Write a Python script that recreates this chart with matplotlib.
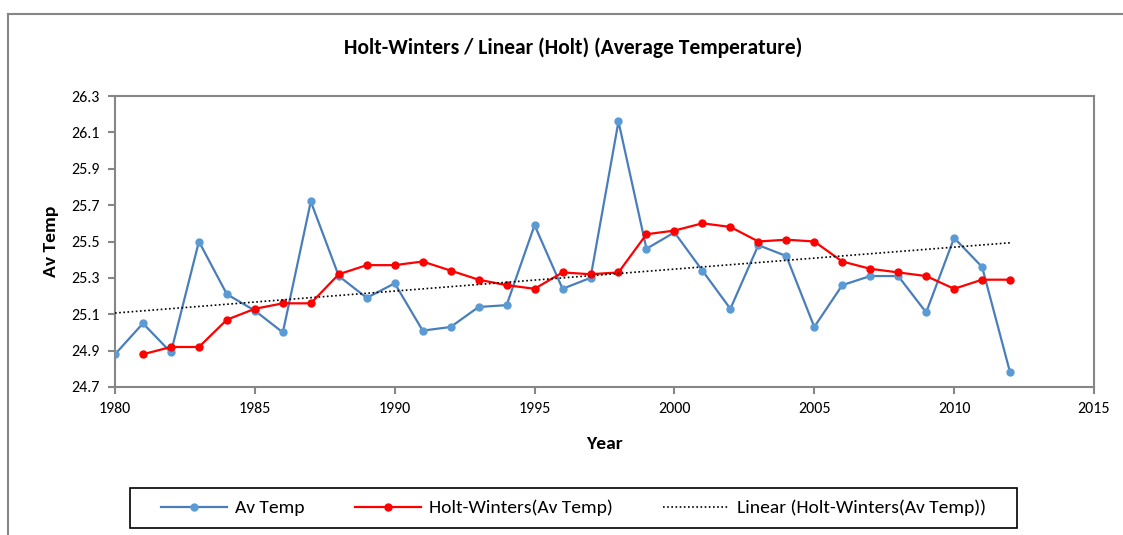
import matplotlib
matplotlib.use("Agg")
import matplotlib.pyplot as plt
import numpy as np
from matplotlib import font_manager
from matplotlib.lines import Line2D
from matplotlib.patches import Rectangle

# pick a narrow-ish font close to Calibri
available = {f.name for f in font_manager.fontManager.ttflist}
family = next((f for f in ['Carlito', 'Liberation Sans Narrow', 'Open Sans', 'DejaVu Sans'] if f in available), 'DejaVu Sans')
plt.rcParams['font.family'] = [family, 'DejaVu Sans']

years = list(range(1980, 2013))
av_temp = [24.88, 25.05, 24.89, 25.50, 25.21, 25.12, 25.00, 25.72, 25.31, 25.19,
           25.27, 25.01, 25.03, 25.14, 25.15, 25.59, 25.24, 25.30, 26.16, 25.46,
           25.55, 25.34, 25.13, 25.48, 25.42, 25.03, 25.26, 25.31, 25.31, 25.11,
           25.52, 25.36, 24.78]
hw_years = list(range(1981, 2013))
holt_winters = [24.88, 24.92, 24.92, 25.07, 25.13, 25.16, 25.16, 25.32, 25.37, 25.37,
                25.39, 25.34, 25.29, 25.26, 25.24, 25.33, 25.32, 25.33, 25.54, 25.56,
                25.60, 25.58, 25.50, 25.51, 25.50, 25.39, 25.35, 25.33, 25.31, 25.24,
                25.29, 25.29]

BLUE_LINE = '#4a7ebb'
BLUE_MARK = '#5b9bd5'
RED = '#ff0000'
GRID = '#868686'

fig = plt.figure(figsize=(11.23, 5.35), dpi=100)
ax = fig.add_axes([115 / 1123, 1 - 387 / 535, (1094 - 115) / 1123, (387 - 96) / 535])

ax.plot(years, av_temp, color=BLUE_LINE, lw=1.6, marker='o', ms=5,
        mfc=BLUE_MARK, mec=BLUE_MARK, label='Av Temp', zorder=3)
ax.plot(hw_years, holt_winters, color=RED, lw=1.6, marker='o', ms=5,
        mfc=RED, mec=RED, label='Holt-Winters(Av Temp)', zorder=4)

# linear trendline of the Holt-Winters series
coef = np.polyfit(hw_years, holt_winters, 1)
trend_x = np.array([1980, 2012])
ax.plot(trend_x, np.polyval(coef, trend_x), color='black', lw=1.2, ls=(0, (1, 1.5)),
        label='Linear (Holt-Winters(Av Temp))', zorder=5)

ax.set_xlim(1980, 2015)
ax.set_ylim(24.7, 26.3)
ax.set_xticks(range(1980, 2016, 5))
ax.set_yticks(np.round(np.arange(24.7, 26.31, 0.2), 1))
ax.yaxis.set_major_formatter(matplotlib.ticker.FormatStrFormatter('%.1f'))
for s in ax.spines.values():
    s.set_color(GRID)
    s.set_linewidth(1.5)
ax.tick_params(axis='both', direction='out', length=5, width=1.5, color=GRID,
               labelsize=11.5, pad=6)

# title sits centred on the whole chart area, not the plot area
fig.text(573 / 1123, 1 - 48 / 535, 'Holt-Winters / Linear (Holt) (Average Temperature)',
         fontsize=15.5, fontweight='bold', ha='center', va='center')
ax.set_xlabel('Year', fontsize=14, fontweight='bold', labelpad=14)
ax.set_ylabel('Av Temp', fontsize=14, fontweight='bold', labelpad=9)

# outer chart border (left and top only visible)
fig.add_artist(Line2D([8 / 1123, 8 / 1123], [0, 1 - 14 / 535], transform=fig.transFigure,
                      color=GRID, lw=1.5))
fig.add_artist(Line2D([8 / 1123, 1], [1 - 14 / 535, 1 - 14 / 535], transform=fig.transFigure,
                      color=GRID, lw=1.5))

# legend box
box = (130 / 1123, 1 - 528 / 535, 887 / 1123, 40 / 535)
fig.add_artist(Rectangle(box[:2], box[2], box[3], transform=fig.transFigure,
                         fill=False, edgecolor='black', lw=1.2))
fig.legend(loc='center', bbox_to_anchor=(box[0] + box[2] / 2, box[1] + box[3] / 2),
           ncol=3, fontsize=14, frameon=False, handlelength=3.4,
           handletextpad=0.4, columnspacing=2.6, borderaxespad=0)

fig.savefig('out.png', dpi=100)
